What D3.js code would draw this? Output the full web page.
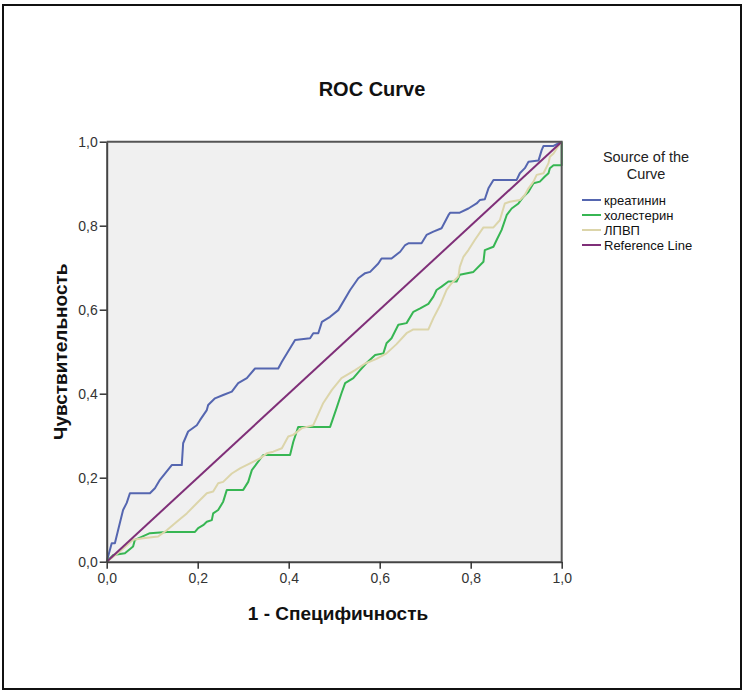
<!DOCTYPE html>
<html>
<head>
<meta charset="utf-8">
<script src="https://cdn.jsdelivr.net/npm/d3@7"></script>
<style>
  html, body { margin: 0; padding: 0; background: #fff; }
  svg { display: block; }
  text { font-family: "Liberation Sans", Arial, sans-serif; }
</style>
</head>
<body>
<svg id="chart" width="744" height="695"></svg>
<script>
// ROC curves: [1 - specificity, sensitivity] pairs for each test variable
const creatinine = [
  [0,0],[0.011,0.044],[0.018,0.044],[0.025,0.075],[0.036,0.123],[0.044,0.14],[0.051,0.163],
  [0.095,0.163],[0.106,0.175],[0.117,0.195],[0.143,0.23],[0.165,0.23],[0.168,0.282],
  [0.179,0.31],[0.198,0.325],[0.205,0.337],[0.22,0.361],[0.223,0.373],[0.238,0.389],
  [0.256,0.397],[0.275,0.405],[0.289,0.425],[0.308,0.437],[0.326,0.46],[0.377,0.46],
  [0.385,0.476],[0.414,0.528],[0.447,0.532],[0.454,0.544],[0.465,0.544],[0.473,0.571],
  [0.491,0.583],[0.509,0.599],[0.535,0.647],[0.553,0.675],[0.568,0.687],[0.579,0.69],
  [0.597,0.71],[0.604,0.722],[0.626,0.722],[0.645,0.738],[0.656,0.754],[0.663,0.758],
  [0.692,0.758],[0.703,0.778],[0.718,0.786],[0.736,0.794],[0.751,0.825],[0.755,0.831],
  [0.776,0.831],[0.795,0.841],[0.813,0.853],[0.82,0.861],[0.831,0.863],[0.839,0.889],
  [0.85,0.909],[0.901,0.909],[0.908,0.925],[0.919,0.937],[0.927,0.952],[0.949,0.955],
  [0.956,0.98],[0.96,0.99],[0.982,0.99],[1,1]
];
const cholesterol = [
  [0,0],[0.0145,0.016],[0.04,0.02],[0.058,0.036],[0.062,0.052],[0.095,0.068],[0.132,0.071],
  [0.194,0.071],[0.201,0.08],[0.212,0.087],[0.22,0.095],[0.231,0.099],[0.234,0.115],
  [0.245,0.123],[0.256,0.143],[0.264,0.171],[0.3,0.171],[0.311,0.19],[0.319,0.218],
  [0.33,0.234],[0.344,0.254],[0.403,0.254],[0.41,0.285],[0.421,0.321],[0.491,0.321],
  [0.505,0.365],[0.516,0.401],[0.524,0.425],[0.542,0.437],[0.557,0.456],[0.571,0.473],
  [0.59,0.492],[0.608,0.496],[0.615,0.52],[0.626,0.532],[0.641,0.564],[0.659,0.568],
  [0.674,0.595],[0.689,0.603],[0.707,0.614],[0.718,0.631],[0.725,0.647],[0.736,0.655],
  [0.751,0.667],[0.769,0.667],[0.776,0.683],[0.806,0.69],[0.828,0.714],[0.831,0.742],
  [0.85,0.75],[0.857,0.766],[0.868,0.79],[0.879,0.825],[0.89,0.841],[0.905,0.853],
  [0.916,0.869],[0.927,0.881],[0.938,0.901],[0.952,0.905],[0.963,0.917],[0.971,0.925],
  [0.974,0.937],[0.982,0.944],[1,0.944],[1,1]
];
const hdl = [
  [0,0],[0.029,0.024],[0.058,0.052],[0.08,0.056],[0.113,0.06],[0.132,0.075],[0.154,0.095],
  [0.176,0.115],[0.198,0.139],[0.22,0.163],[0.234,0.167],[0.245,0.187],[0.256,0.19],
  [0.275,0.21],[0.293,0.222],[0.315,0.234],[0.337,0.246],[0.352,0.258],[0.366,0.262],
  [0.385,0.27],[0.399,0.298],[0.41,0.302],[0.429,0.318],[0.454,0.325],[0.476,0.378],
  [0.495,0.409],[0.516,0.437],[0.546,0.456],[0.568,0.472],[0.593,0.483],[0.615,0.496],
  [0.637,0.518],[0.659,0.544],[0.674,0.553],[0.707,0.553],[0.718,0.58],[0.733,0.611],
  [0.747,0.647],[0.758,0.663],[0.773,0.679],[0.776,0.702],[0.784,0.726],[0.795,0.742],
  [0.809,0.766],[0.828,0.796],[0.85,0.796],[0.864,0.813],[0.875,0.853],[0.886,0.857],
  [0.908,0.861],[0.919,0.873],[0.927,0.889],[0.938,0.905],[0.945,0.921],[0.96,0.925],
  [0.971,0.949],[0.974,0.964],[0.982,0.972],[0.989,0.984],[1,1]
];
const referenceLine = [[0,0],[1,1]];

const seriesNames = ["креатинин", "холестерин", "ЛПВП", "Reference Line"];
const seriesColors = ["#5566b0", "#37b653", "#dcd5aa", "#7f2f78"];
const tickValues = [0, 0.2, 0.4, 0.6, 0.8, 1.0];
const tickLabels = ["0,0", "0,2", "0,4", "0,6", "0,8", "1,0"];

const svg = d3.select("#chart");

// outer frame
svg.append("rect")
  .attr("x", 3).attr("y", 5).attr("width", 738).attr("height", 684)
  .attr("fill", "#fff").attr("stroke", "#111").attr("stroke-width", 2);

const plot = { left: 106.7, right: 561.7, top: 141.7, bottom: 561.7 };
const x = d3.scaleLinear().domain([0, 1]).range([plot.left, plot.right]);
const y = d3.scaleLinear().domain([0, 1]).range([plot.bottom, plot.top]);

// plot background
svg.append("rect")
  .attr("x", plot.left).attr("y", plot.top)
  .attr("width", plot.right - plot.left).attr("height", plot.bottom - plot.top)
  .attr("fill", "#f0f0f0");

// title
svg.append("text")
  .attr("x", 372).attr("y", 96)
  .attr("text-anchor", "middle")
  .attr("font-size", 20).attr("font-weight", "bold").attr("fill", "#111")
  .text("ROC Curve");

// curves
const line = d3.line().x(d => x(d[0])).y(d => y(d[1]));
const curves = [creatinine, cholesterol, hdl, referenceLine];
curves.forEach((data, i) => {
  svg.append("path")
    .datum(data)
    .attr("d", line)
    .attr("fill", "none")
    .attr("stroke", seriesColors[i])
    .attr("stroke-width", 2)
    .attr("stroke-linejoin", "round");
});

// frame of the plot area (top/right)
svg.append("path")
  .attr("d", `M${plot.left},${plot.top}H${plot.right}V${plot.bottom}`)
  .attr("fill", "none").attr("stroke", "#555").attr("stroke-width", 2);

const fmt = d => tickLabels[tickValues.indexOf(d)];

const xAxis = svg.append("g")
  .attr("transform", `translate(0,${plot.bottom})`)
  .call(d3.axisBottom(x).tickValues(tickValues).tickFormat(fmt).tickSizeInner(7).tickSizeOuter(0).tickPadding(4));
const yAxis = svg.append("g")
  .attr("transform", `translate(${plot.left},0)`)
  .call(d3.axisLeft(y).tickValues(tickValues).tickFormat(fmt).tickSizeInner(7).tickSizeOuter(0).tickPadding(2));

[xAxis, yAxis].forEach(g => {
  g.select(".domain").attr("stroke", "#444").attr("stroke-width", 2);
  g.selectAll(".tick line").attr("stroke", "#333").attr("stroke-width", 1.5);
  g.selectAll(".tick text")
    .attr("font-family", "'Liberation Sans', Arial, sans-serif")
    .attr("font-size", 14).attr("fill", "#333");
});

// axis titles
svg.append("text")
  .attr("x", 338).attr("y", 620)
  .attr("text-anchor", "middle")
  .attr("font-size", 19).attr("font-weight", "bold").attr("fill", "#111")
  .text("1 - Специфичность");

svg.append("text")
  .attr("transform", `translate(67,${(plot.top + plot.bottom) / 2}) rotate(-90)`)
  .attr("text-anchor", "middle")
  .attr("font-size", 19).attr("font-weight", "bold").attr("fill", "#111")
  .text("Чувствительность");

// legend
const legend = svg.append("g");
legend.append("text")
  .attr("x", 646).attr("y", 162)
  .attr("text-anchor", "middle")
  .attr("font-size", 14.5).attr("fill", "#222")
  .selectAll("tspan")
  .data(["Source of the", "Curve"])
  .join("tspan")
  .attr("x", 646)
  .attr("dy", (d, i) => i === 0 ? 0 : 17)
  .text(d => d);

seriesNames.forEach((name, i) => {
  const yy = 200 + i * 15;
  legend.append("line")
    .attr("x1", 582).attr("x2", 601).attr("y1", yy).attr("y2", yy)
    .attr("stroke", seriesColors[i]).attr("stroke-width", 2);
  legend.append("text")
    .attr("x", 604).attr("y", yy + 5)
    .attr("font-size", 13).attr("fill", "#111")
    .text(name);
});
</script>
</body>
</html>
